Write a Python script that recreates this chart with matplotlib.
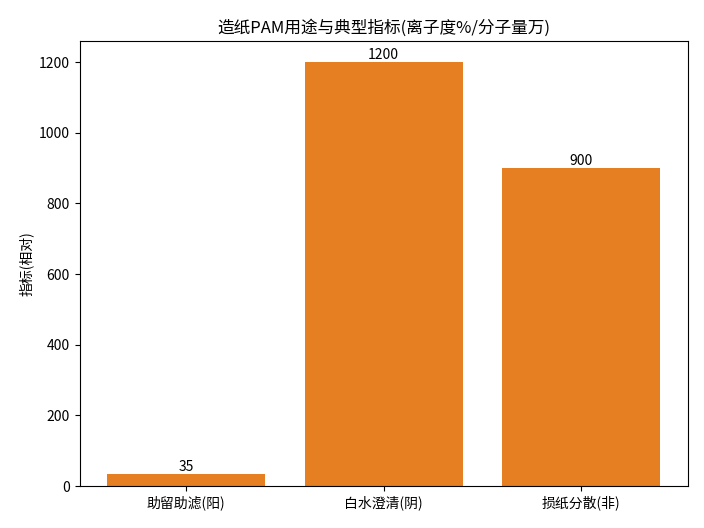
import matplotlib
matplotlib.use("Agg")
import matplotlib.pyplot as plt

plt.rcParams['font.family'] = ['Noto Sans CJK SC', 'DejaVu Sans']
plt.rcParams['axes.unicode_minus'] = False

categories = ["助留助滤(阳)", "白水澄清(阴)", "损纸分散(非)"]
values = [35, 1200, 900]
title = "造纸PAM用途与典型指标(离子度%/分子量万)"
ylabel = "指标(相对)"

fig = plt.figure(figsize=(7.04, 5.28), dpi=100)
ax = fig.add_axes([0.113, 0.0795, 0.864, 0.843])
bars = ax.bar(categories, values, color="#E67E22", width=0.8)
for b, v in zip(bars, values):
    ax.text(b.get_x() + b.get_width() / 2, b.get_height(), f"{v}",
            ha="center", va="bottom", fontsize=10)
ax.set_title(title, fontsize=12)
ax.set_ylabel(ylabel, fontsize=10)
fig.savefig("out.png", dpi=100)
